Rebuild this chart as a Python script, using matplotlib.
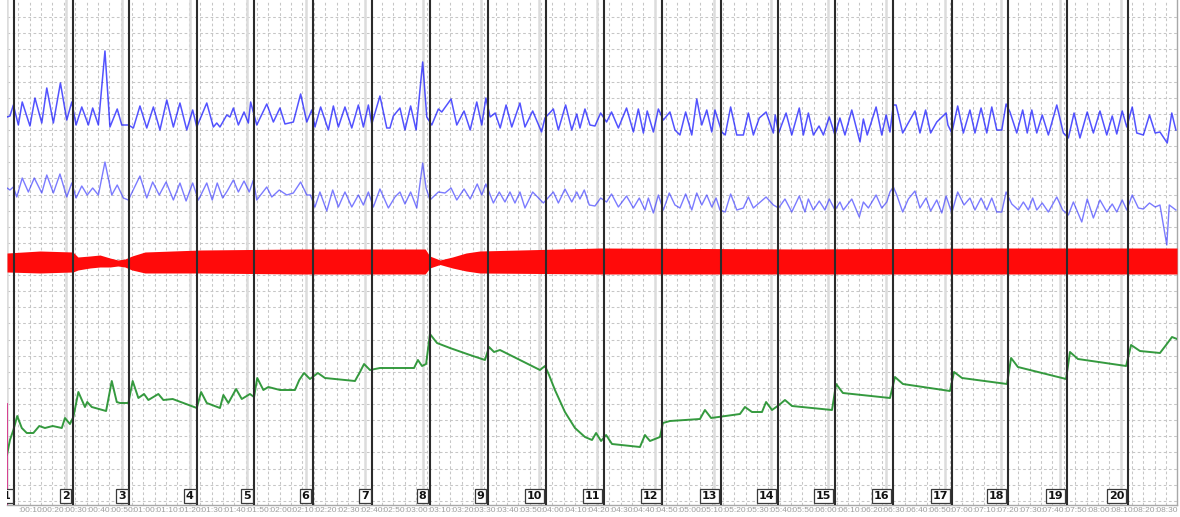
import matplotlib
matplotlib.use("Agg")
import matplotlib.pyplot as plt
from matplotlib.ticker import MultipleLocator, FuncFormatter, FixedLocator
import numpy as np

# ---------------- data ----------------
# time in seconds, values in arbitrary display units (larger = lower on screen)
event_t = [3.2, 29.0, 53.7, 83.6, 108.7, 134.6, 160.6, 186.1, 211.6, 237.1,
           262.6, 288.2, 314.1, 339.2, 364.3, 389.8, 415.7, 440.4, 466.3, 493.2]
event_labels = [str(i) for i in range(1, 21)]

resp1_t = [0, 1.3, 2.8, 5.0, 6.7, 10.1, 12.3, 15.3, 17.5, 20.4, 23.5, 26.3, 28.5, 30.4, 32.9, 35.8,
           37.7, 40.2, 43.1, 45.3, 48.5, 50.5, 53.4, 55.6, 58.5, 61.5, 64.4, 67.3, 70.3, 73.2, 76.1,
           79.1, 81.7, 83.5, 87.9, 90.8, 92.3, 93.7, 96.7, 98.1, 99.6, 101.8, 104.3, 106.2, 107.2,
           109.9, 114.3, 117.2, 120.1, 122.3, 126.0, 129.2, 131.9, 134.1, 135.5, 138.0, 141.4, 143.6,
           145.8, 148.7, 151.7, 154.6, 156.8, 159.0, 160.5, 164.1, 167.1, 168.5, 170.0, 172.9, 175.1,
           177.6, 180.0, 182.9, 184.7, 186.9, 189.8, 191.3, 195.4, 197.9, 201.1, 203.8, 206.7, 208.9,
           210.7, 212.6, 214.8, 217.0, 219.6, 222.1, 225.7, 227.9, 231.3, 235.2, 236.7, 240.4, 242.6,
           245.8, 248.5, 250.7, 252.1, 254.3, 256.5, 258.7, 261.2, 263.8, 266.0, 269.0, 272.6, 275.6,
           277.8, 280.0, 281.7, 284.4, 286.6, 288.8, 291.7, 293.9, 296.1, 298.6, 301.3, 303.5, 305.7,
           307.9, 310.1, 311.5, 314.5, 316.0, 318.4, 321.1, 324.0, 326.2, 328.4, 331.0, 334.0, 337.2,
           338.0, 339.5, 342.8, 345.3, 348.6, 350.4, 352.6, 354.8, 357.3, 359.2, 361.8, 364.3, 366.5,
           368.7, 371.7, 375.3, 376.8, 378.5, 382.4, 384.9, 386.8, 388.5, 390.0, 391.2, 394.1, 399.5,
           401.7, 404.2, 406.4, 409.1, 413.2, 414.0, 415.7, 418.3, 420.8, 423.7, 425.9, 428.6, 431.1,
           433.3, 435.5, 437.7, 439.6, 441.3, 444.3, 446.9, 448.9, 450.9, 453.1, 455.5, 458.2, 461.9,
           464.8, 467.0, 469.5, 472.1, 475.3, 478.0, 480.9, 483.9, 486.3, 488.3, 490.7, 492.7, 495.1,
           497.1, 500.0, 502.7, 505.2, 507.3, 510.5, 512.5, 514.3]
resp1_v = [117, 116, 105, 125, 102, 126, 98, 123, 88, 123, 83, 120, 102, 125, 107, 125,
           108, 125, 51, 127, 109, 125, 125, 128, 106, 128, 107, 130, 100, 127, 103,
           130, 110, 127, 103, 127, 123, 127, 115, 117, 108, 125, 112, 123, 102,
           125, 104, 122, 108, 124, 122, 94, 122, 110, 127, 107, 130, 106,
           127, 107, 128, 105, 127, 105, 124, 96, 128, 128, 116, 108, 130,
           106, 130, 62, 117, 125, 109, 112, 99, 125, 111, 130, 102, 125,
           98, 117, 113, 128, 105, 127, 103, 127, 111, 132, 118, 109, 130,
           105, 130, 114, 128, 109, 125, 126, 113, 122, 112, 128, 108, 132,
           109, 133, 111, 132, 109, 120, 112, 130, 135, 112, 135, 99, 125,
           110, 132, 110, 132, 135, 107, 135, 135, 113, 135, 118, 112, 133,
           115, 133, 113, 135, 108, 135, 113, 135, 126, 135, 117, 135, 118,
           135, 110, 142, 119, 135, 107, 135, 115, 132, 105, 105, 133, 111,
           133, 110, 133, 122, 113, 125, 133, 106, 133, 110, 133, 108, 133,
           107, 130, 130, 104, 112, 133, 110, 133, 110, 133, 115, 135, 105,
           133, 138, 113, 138, 112, 133, 111, 135, 116, 134, 111, 127, 107,
           133, 135, 115, 133, 132, 143, 113, 130]

resp2_t = [0, 1.3, 2.8, 4.3, 6.7, 9.4, 12.0, 15.3, 17.5, 20.4, 23.3, 26.3, 28.5, 30.4, 32.9, 35.3,
           37.7, 40.2, 43.1, 46.1, 48.5, 51.2, 53.4, 58.5, 61.5, 64.1, 67.0, 70.0, 73.2, 76.1, 78.8,
           81.7, 84.2, 87.9, 90.3, 92.5, 94.9, 96.9, 99.6, 101.8, 104.3, 106.6, 108.4, 109.9, 114.3,
           116.5, 119.8, 123.1, 126.0, 129.2, 131.9, 133.5, 135.5, 137.7, 140.7, 143.3, 145.8, 148.7,
           151.7, 154.6, 156.8, 159.0, 161.2, 164.1, 167.8, 170.7, 172.9, 175.1, 177.6, 180.3, 182.9,
           184.4, 186.1, 189.8, 192.7, 195.4, 197.9, 201.1, 203.8, 206.9, 208.9, 210.7, 214.0, 216.6,
           219.1, 221.3, 223.5, 225.7, 227.9, 231.3, 236.0, 240.4, 242.6, 245.5, 248.5, 250.7, 252.1,
           254.0, 256.2, 258.7, 261.2, 263.8, 266.0, 269.0, 272.6, 275.6, 278.2, 280.7, 282.2, 284.4,
           286.6, 288.8, 291.4, 293.9, 296.1, 298.6, 301.3, 303.5, 305.7, 307.9, 310.1, 312.0, 313.7,
           316.0, 318.4, 321.1, 324.0, 326.2, 328.4, 334.0, 337.2, 339.5, 342.3, 345.3, 348.6, 351.1,
           352.6, 354.8, 357.4, 359.9, 361.8, 364.3, 366.5, 368.0, 371.7, 375.0, 376.8, 379.0, 382.4,
           384.9, 387.1, 388.5, 390.0, 391.5, 394.1, 396.6, 399.5, 401.7, 404.4, 406.4, 409.1, 411.3,
           413.2, 415.7, 418.3, 421.1, 423.7, 425.9, 428.6, 431.1, 433.3, 435.5, 437.7, 439.6, 442.1,
           445.0, 447.2, 449.4, 451.3, 453.1, 455.5, 458.2, 461.9, 464.5, 467.0, 469.2, 472.9, 475.3,
           478.0, 480.9, 483.9, 486.3, 488.3, 490.7, 492.7, 495.1, 497.8, 500.0, 502.7, 505.2, 507.3,
           510.3, 511.4, 514.3]
resp2_v = [188, 190, 187, 197, 178, 192, 178, 193, 175, 193, 174, 197, 183, 198, 186, 195,
           188, 195, 162, 195, 185, 198, 200, 176, 198, 182, 195, 182, 200, 183, 201,
           183, 200, 183, 200, 183, 198, 191, 180, 192, 181, 192, 180, 200, 187,
           197, 190, 195, 193, 182, 195, 195, 207, 192, 211, 190, 207, 192,
           207, 195, 205, 192, 207, 189, 208, 197, 192, 204, 192, 208, 163,
           188, 200, 192, 193, 188, 200, 189, 199, 184, 195, 184, 203, 192,
           202, 192, 203, 192, 208, 192, 203, 192, 203, 189, 202, 192, 199,
           190, 205, 206, 198, 202, 194, 207, 196, 208, 198, 210, 198, 213,
           195, 210, 193, 205, 208, 194, 210, 193, 205, 195, 207, 198, 210,
           212, 194, 210, 208, 197, 208, 197, 205, 208, 199, 212, 196, 212,
           199, 210, 201, 210, 199, 210, 202, 210, 199, 217, 202, 208, 195,
           208, 202, 192, 187, 195, 212, 199, 191, 208, 198, 211, 200, 213,
           196, 213, 192, 205, 198, 210, 198, 210, 198, 212, 212, 192, 204,
           210, 202, 210, 198, 210, 203, 212, 197, 210, 215, 202, 222, 199,
           218, 200, 212, 204, 212, 200, 210, 195, 208, 209, 203, 207, 205,
           245, 205, 210]

ecg_t = [0, 14.5, 29.0, 31.2, 36.5, 40.9, 45.3, 48.8, 51.9, 55.0, 60.7, 85.0, 129.0, 184.0,
         186.0, 190.5, 196.0, 202.0, 208.0, 261.0, 349.0, 437.0, 514.8]
ecg_hi = [253, 251, 252, 257, 256, 255, 258, 260, 259, 256, 252, 250, 249, 249,
          256, 260, 257, 253, 251, 248, 249, 248, 248]
ecg_lo = [272, 273, 272, 270, 268, 267, 267, 266, 267, 270, 273, 273, 274, 274,
          268, 264.5, 268, 271, 273, 274, 274, 274, 274]

bp_t = [0, 1.3, 2.8, 4.5, 6.5, 8.7, 11.6, 14.2, 16.7, 20.1, 24.1, 25.5, 27.7, 29.2, 31.4, 34.3,
        35.3, 37.3, 43.6, 46.1, 48.3, 49.7, 53.4, 55.3, 57.8, 60.3, 62.2, 66.6, 68.8, 72.9, 83.5,
        85.4, 87.9, 93.7, 95.2, 97.4, 100.8, 103.3, 106.9, 108.7, 110.1, 112.8, 115.0, 120.1, 126.7,
        128.6, 130.7, 133.3, 136.8, 139.9, 153.1, 155.3, 157.1, 159.7, 164.1, 179.1, 180.8, 182.6,
        184.4, 186.1, 189.2, 194.9, 203.7, 210.3, 212.1, 214.3, 216.9, 225.7, 234.5, 236.7, 238.5,
        241.1, 245.5, 249.9, 254.3, 257.4, 259.2, 261.4, 263.6, 266.2, 278.5, 280.7, 282.9, 287.3,
        288.6, 291.7, 304.9, 307.1, 309.8, 322.5, 324.7, 327.8, 332.2, 334.0, 336.6, 339.7, 342.3,
        345.4, 363.0, 364.8, 367.8, 388.5, 390.7, 394.2, 414.9, 416.7, 420.2, 440.0, 441.8, 444.8,
        466.0, 467.7, 471.2, 492.4, 494.6, 498.5, 507.3, 510.0, 512.6, 514.8]
bp_v = [455, 440, 430, 416, 428, 433, 433, 426, 428, 426, 428, 418, 424, 417, 392, 407,
        402, 407, 411, 381, 402, 403, 403, 381, 398, 394, 400, 394, 400, 399, 408,
        392, 403, 408, 395, 403, 389, 399, 394, 397, 378, 390, 387, 390, 390,
        380, 373, 379, 373, 378, 381, 372, 364, 370, 368, 368, 360, 366,
        364, 334, 343, 348, 355, 360, 347, 352, 350, 360, 370, 366, 375,
        390, 412, 428, 437, 440, 433, 441, 435, 444, 447, 435, 441, 437,
        423, 421, 419, 410, 418, 414, 407, 412, 412, 402, 410, 405, 400,
        406, 410, 384, 393, 398, 377, 384, 391, 372, 378, 384, 358, 367,
        379, 352, 359, 366, 345, 351, 353, 345, 337, 339]

# ---------------- figure ----------------
W, H = 1180, 517
fig = plt.figure(figsize=(W / 100, H / 100), dpi=100)
fig.patch.set_facecolor("white")
ax = fig.add_axes([7 / W, 12 / H, 1170 / W, 505 / H])
ax.set_xlim(0, 514.8)
ax.set_ylim(505, 0)

grid_kw = dict(color="#c6c6c6", lw=0.75, ls=(0, (2.6, 2.4)))
ax.xaxis.set_major_locator(MultipleLocator(10))
ax.xaxis.set_minor_locator(MultipleLocator(5))
ax.yaxis.set_major_locator(FixedLocator(np.arange(17.2, 505, 16.12)))
ax.grid(True, which="both", axis="x", **grid_kw)
ax.grid(True, which="major", axis="y", **grid_kw)
ax.set_axisbelow(True)
ax.tick_params(axis="y", left=False, labelleft=False)
ax.tick_params(axis="x", which="both", length=0, pad=1.2, labelsize=6.0,
               labelcolor="#9c9c9c")
for lab in ax.get_xticklabels():
    lab.set_family("Liberation Sans")
ax.xaxis.set_major_formatter(
    FuncFormatter(lambda v, p: "" if v <= 0 else ":%02d:%02d" % (int(v) // 60, int(v) % 60)))

for s in ("top", "left"):
    ax.spines[s].set_visible(False)
for s in ("bottom", "right"):
    ax.spines[s].set_color("#a8a8a8")
    ax.spines[s].set_linewidth(1.0)

# light marker lines slightly before each event
for t in event_t:
    ax.axvline(t - 3.0, color="#dcdcdc", lw=1.8, zorder=1.5)

# traces
ax.plot(resp1_t, resp1_v, color="#1010ff", lw=1.1, alpha=0.72, zorder=3)
ax.plot(resp2_t, resp2_v, color="#2a2aff", lw=1.0, alpha=0.62, zorder=3)
ax.fill_between(ecg_t, ecg_hi, ecg_lo, color="#ff0a0a", lw=0, zorder=3)
ax.plot(bp_t, bp_v, color="#1f8f2a", lw=1.4, alpha=0.9, zorder=3)

# event lines and boxed numbers
for t, lab in zip(event_t, event_labels):
    ax.axvline(t, color="#2b2b2b", lw=1.5, zorder=4)
    a = ax.annotate(lab, xy=(t, 0), xycoords=("data", "axes fraction"),
                    xytext=(-2.5, 2.6), textcoords="offset points",
                    ha="right", va="bottom", fontsize=8, color="#111111",
                    fontweight="bold", annotation_clip=False, zorder=5,
                    bbox=dict(boxstyle="square,pad=0.18", fc="white", ec="#3a3a3a", lw=0.9))
    a.set_clip_on(True)
    a.set_clip_path(ax.patch)

# pink marker at the left edge
ax.axvline(0.15, ymin=0, ymax=0.2, color="#d6338a", lw=1.3, zorder=4)

fig.savefig("out.png", dpi=100, facecolor="white")
